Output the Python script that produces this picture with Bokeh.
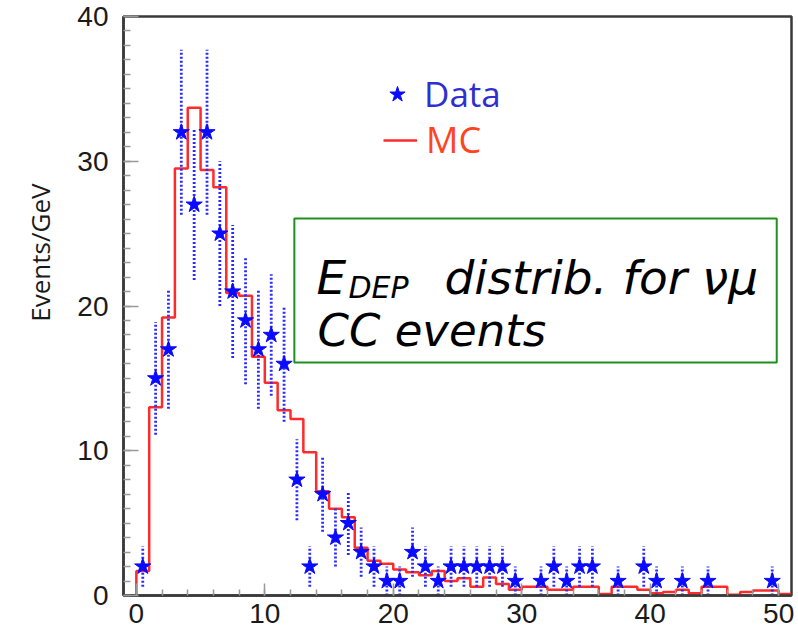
import numpy as np
from bokeh.plotting import figure
from bokeh.models import (FixedTicker, Legend, LegendItem, Label, BoxAnnotation, Range1d, Title)
from bokeh.core.properties import value
from bokeh.embed import file_html
from bokeh.resources import INLINE

# ---------------- data ----------------
# bin edges in GeV (1 GeV bins)
bin_edges = list(range(0, 52))

# Data: events per 1 GeV bin, bins 0-1 ... 49-50
data_counts = [2, 15, 17, 32, 27, 32, 25, 21, 19, 17,
               18, 16, 8, 2, 7, 4, 5, 3, 2, 1,
               1, 3, 2, 1, 2, 2, 2, 2, 2, 1,
               0, 1, 2, 1, 2, 2, 0, 1, 0, 2,
               1, 0, 1, 0, 1, 0, 0, 0, 0, 1]
data_errors = [1.4, 3.9, 4.1, 5.7, 5.2, 5.7, 5.0, 4.6, 4.4, 4.1,
               4.2, 4.0, 2.8, 1.4, 2.6, 2.0, 2.2, 1.7, 1.4, 1.0,
               1.0, 1.7, 1.4, 1.0, 1.4, 1.4, 1.4, 1.4, 1.4, 1.0,
               0.0, 1.0, 1.4, 1.0, 1.4, 1.4, 0.0, 1.0, 0.0, 1.4,
               1.0, 0.0, 1.0, 0.0, 1.0, 0.0, 0.0, 0.0, 0.0, 1.0]

# MC: bins 0-1 ... 50-51
mc_values = [1.7, 13.0, 19.2, 29.5, 33.7, 29.4, 28.2, 20.9, 20.7, 16.5,
             14.7, 12.8, 12.2, 9.9, 7.2, 6.0, 5.4, 3.3, 2.4, 2.2,
             1.8, 1.6, 1.4, 1.7, 1.0, 1.2, 0.6, 1.25, 0.8, 0.4,
             0.6, 0.6, 0.4, 0.4, 0.6, 0.6, 0.1, 0.6, 0.6, 0.4,
             0.15, 0.25, 0.4, 0.15, 0.6, 0.6, 0.05, 0.25, 0.35, 0.35,
             0.1]

x_ticks = [0, 10, 20, 30, 40, 50]
y_ticks = [0, 10, 20, 30, 40]
y_title = "Events/GeV"

# ---------------- derived ----------------
edges = np.array(bin_edges, dtype=float)
centers = (edges[:-1] + edges[1:]) / 2.0
counts = np.array(data_counts, dtype=float)
errs = np.array(data_errors, dtype=float)
nz = counts > 0
cx = centers[:len(counts)][nz]
cy = counts[nz]
ce = errs[nz]

step_x = [edges[0]]
step_y = [0.0]
for i, v in enumerate(mc_values):
    step_x += [edges[i], edges[i + 1]]
    step_y += [v, v]

# ---------------- figure ----------------
p = figure(frame_width=668, frame_height=579,
           x_range=Range1d(-1, 51), y_range=Range1d(0, 40),
           output_backend="svg", toolbar_location=None,
           min_border_left=123, min_border_right=7,
           min_border_top=16, min_border_bottom=38)
p.xgrid.visible = False
p.ygrid.visible = False
p.background_fill_color = "white"
p.border_fill_color = "white"
p.outline_line_color = "#3a3a3a"
p.outline_line_width = 2.5

mc_r = p.line(step_x, step_y, line_color="#ff2b2b", line_width=2.5)
p.segment(x0=cx, y0=cy - ce, x1=cx, y1=cy + ce,
          line_color="#2a2aff", line_width=2.8, line_dash="2 2")
data_r = p.scatter(cx, cy, marker="star", size=17,
                   fill_color="#0a0aff", line_color="#0a0aff")

# axes
xa = p.xaxis[0]
ya = p.yaxis[0]
for ax in (xa, ya):
    ax.axis_line_color = "#3a3a3a"
    ax.axis_line_width = 2.5
    ax.major_tick_line_color = "#999999"
    ax.minor_tick_line_color = "#999999"
    ax.major_tick_line_width = 1.5
    ax.minor_tick_line_width = 1.5
    ax.major_tick_out = 0
    ax.minor_tick_out = 0
    ax.major_label_text_font = "Liberation Sans"
    ax.major_label_text_font_size = "28px"
    ax.major_label_text_color = "#1a1a1a"

xa.ticker = FixedTicker(ticks=x_ticks, minor_ticks=list(range(0, 52, 2)))
ya.ticker = FixedTicker(ticks=y_ticks, minor_ticks=list(range(0, 41)))
xa.major_tick_in = 12
xa.minor_tick_in = 6
ya.major_tick_in = 15
ya.minor_tick_in = 7
xa.major_label_standoff = 8
ya.major_label_standoff = 15

# y-axis title, placed above the frame centre as in the reference
p.add_layout(Title(text=y_title, align="right", offset=167, standoff=33,
                   text_font="Open Sans", text_font_size="26px",
                   text_font_style="normal", text_color="#1a1a1a"), "left")

# legends
leg1 = Legend(items=[LegendItem(label=value("Data"), renderers=[data_r])],
              location=(254, 478), glyph_width=40, glyph_height=40,
              label_standoff=7, padding=0, margin=0, spacing=0,
              border_line_color=None, background_fill_alpha=0,
              label_text_font="Open Sans", label_text_font_size="35px",
              label_text_color="#2f2fcf")
leg2 = Legend(items=[LegendItem(label=value("MC"), renderers=[mc_r])],
              location=(260, 431), glyph_width=34, glyph_height=40,
              label_standoff=9, padding=0, margin=0, spacing=0,
              border_line_color=None, background_fill_alpha=0,
              label_text_font="Open Sans", label_text_font_size="36px",
              label_text_color="#ff4422")
p.add_layout(leg1)
p.add_layout(leg2)

# text box
box = BoxAnnotation(left=12.3, right=49.85, bottom=16.1, top=26.05,
                    fill_alpha=0, line_color="#1f8f1f", line_alpha=1.0, line_width=2)
p.add_layout(box)

lab_font = "DejaVu Sans"
p.add_layout(Label(x=193, y=318, x_units="screen", y_units="screen", text="E",
                   text_font=lab_font, text_font_size="47px", text_font_style="italic",
                   text_baseline="alphabetic", text_color="black"))
p.add_layout(Label(x=225, y=308, x_units="screen", y_units="screen", text="DEP",
                   text_font=lab_font, text_font_size="30px", text_font_style="italic",
                   text_baseline="alphabetic", text_color="black"))
p.add_layout(Label(x=321, y=318, x_units="screen", y_units="screen", text="distrib. for νμ",
                   text_font=lab_font, text_font_size="47px", text_font_style="italic",
                   text_baseline="alphabetic", text_color="black"))
p.add_layout(Label(x=194, y=265, x_units="screen", y_units="screen", text="CC events",
                   text_font=lab_font, text_font_size="45px", text_font_style="italic",
                   text_baseline="alphabetic", text_color="black"))

open("out.html", "w").write(file_html(p, INLINE))
